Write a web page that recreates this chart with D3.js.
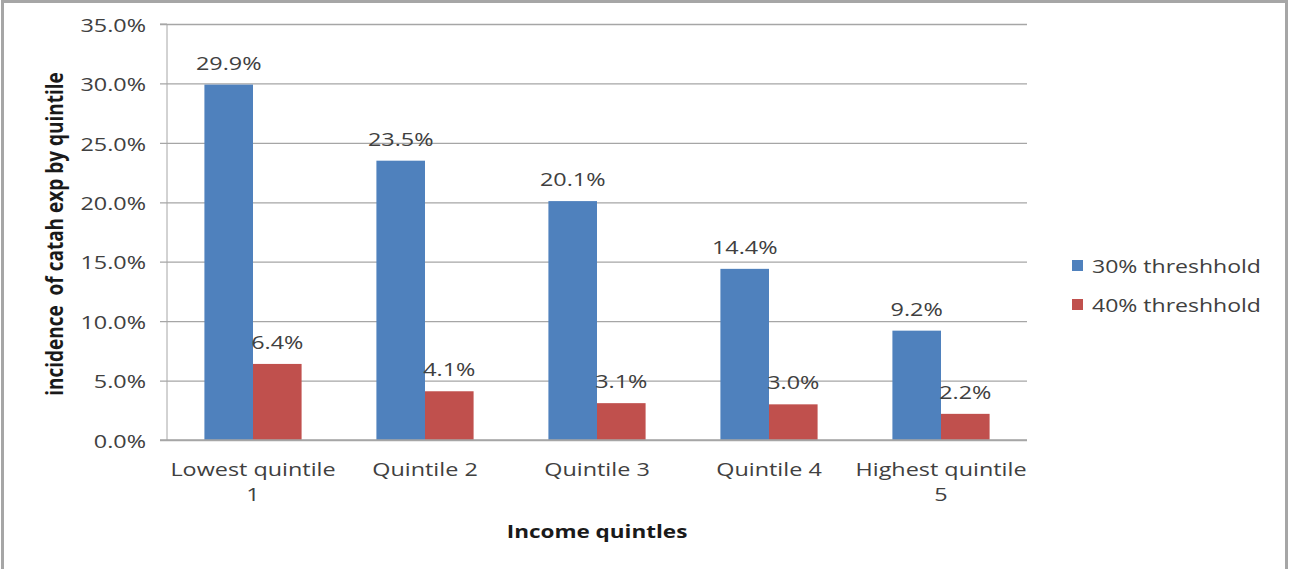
<!DOCTYPE html>
<html>
<head>
<meta charset="utf-8">
<script src="https://cdn.jsdelivr.net/npm/d3@7/dist/d3.min.js"></script>
<style>
  html, body { margin: 0; padding: 0; background: #fff; }
  svg { display: block; }
  text { font-family: "Open Sans", "Noto Sans", sans-serif; fill: #404040; }
</style>
</head>
<body>
<svg id="chart" width="1289" height="569"></svg>
<script>
// Incidence of catastrophic expenditure by income quintile
const categories = [["Lowest quintile", "1"], ["Quintile 2"], ["Quintile 3"], ["Quintile 4"], ["Highest quintile", "5"]];
const seriesNames = ["30% threshhold", "40% threshhold"];
const threshold30 = [29.9, 23.5, 20.1, 14.4, 9.2];
const threshold40 = [6.4, 4.1, 3.1, 3.0, 2.2];
const yTicks = [0, 5, 10, 15, 20, 25, 30, 35];
const colors = ["#4f81bd", "#c0504d"];

const svg = d3.select("#chart");
const W = 1289, H = 569;
const plot = { left: 167, right: 1027, top: 24, bottom: 440 };
const K = 1.3; // horizontal widening of the lettering

// text widened horizontally around its anchor point
function wideText(parent, x, y, str, opts = {}) {
  const g = parent.append("g").attr("transform", `translate(${x},${y}) scale(${opts.k || K},1)`);
  const t = g.append("text")
    .attr("text-anchor", opts.anchor || "middle")
    .attr("font-size", opts.size || 18)
    .text(str);
  if (opts.bold) t.attr("font-weight", "bold").style("fill", "#1a1a1a");
  return t;
}

// outer frame
svg.append("rect").attr("x", 2.5).attr("y", 1.5).attr("width", W - 5).attr("height", H + 10)
  .attr("fill", "#fff").attr("stroke", "#a6a6a6").attr("stroke-width", 3);

const idx = d3.range(categories.length);
const x0 = d3.scaleBand().domain(idx).range([plot.left, plot.right]).paddingInner(0.435).paddingOuter(0.2175);
const x1 = d3.scaleBand().domain([0, 1]).range([0, x0.bandwidth()]);
const y = d3.scaleLinear().domain([0, 35]).range([plot.bottom, plot.top]);

// gridlines + y axis
const yAxis = d3.axisLeft(y).tickValues(yTicks).tickFormat(d => d.toFixed(1) + "%")
  .tickSize(-(plot.right - plot.left)).tickPadding(21);
const gy = svg.append("g").attr("transform", `translate(${plot.left},0)`).call(yAxis);
gy.select(".domain").attr("stroke", "#a6a6a6").attr("d", `M-7,${plot.top}H0V${plot.bottom}`);
gy.selectAll(".tick line").attr("stroke", "#a6a6a6").attr("stroke-width", 1.3).attr("x1", -7);
gy.selectAll(".tick text").attr("font-size", 18).attr("fill", "#404040")
  .style("font-family", '"Open Sans", sans-serif')
  .attr("x", -21 / K).attr("dy", "0.4em")
  .attr("transform", `scale(${K},1)`);

// bars and value labels
const data = [threshold30, threshold40];
data.forEach((vals, s) => {
  svg.append("g").selectAll("rect").data(vals).join("rect")
    .attr("x", (d, i) => x0(i) + x1(s))
    .attr("y", d => y(d))
    .attr("width", x1.bandwidth())
    .attr("height", d => y(0) - y(d))
    .attr("fill", colors[s]);
  const lg = svg.append("g");
  vals.forEach((d, i) => {
    wideText(lg, x0(i) + x1(s) + x1.bandwidth() / 2, y(d) - 15, d.toFixed(1) + "%");
  });
});

// baseline
svg.append("line").attr("x1", plot.left - 7).attr("x2", plot.right)
  .attr("y1", plot.bottom).attr("y2", plot.bottom).attr("stroke", "#a6a6a6").attr("stroke-width", 1.3);

// category labels
const cg = svg.append("g");
categories.forEach((lines, i) => {
  lines.forEach((line, j) => {
    wideText(cg, x0(i) + x0.bandwidth() / 2, 476 + j * 25, line);
  });
});

// axis titles
wideText(svg, (plot.left + plot.right) / 2, 538, "Income quintles", { bold: true, k: 1.25 });
svg.append("text")
  .attr("transform", `translate(63,${(plot.top + plot.bottom) / 2 + 2}) scale(1.25,1) rotate(-90)`)
  .attr("text-anchor", "middle").attr("font-size", 19).attr("font-weight", "bold")
  .style("fill", "#1a1a1a").style("white-space", "pre")
  .text("incidence  of catah exp by quintile");

// legend
const leg = svg.append("g").selectAll("g").data(seriesNames).join("g")
  .attr("transform", (d, i) => `translate(1072,${266 + i * 39})`);
leg.append("rect").attr("x", 0).attr("y", -6).attr("width", 11).attr("height", 11)
  .attr("fill", (d, i) => colors[i]);
leg.each(function (d) {
  wideText(d3.select(this), 20, 7, d, { anchor: "start", k: 1.28 });
});
</script>
</body>
</html>
